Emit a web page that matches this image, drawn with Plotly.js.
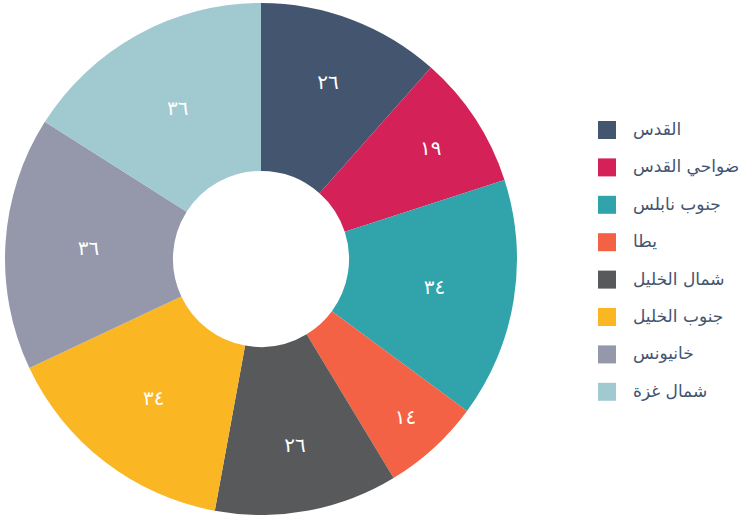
<!DOCTYPE html>
<html>
<head>
<meta charset="utf-8">
<script src="https://cdn.plot.ly/plotly-3.0.1.min.js"></script>
<style>html,body{margin:0;padding:0;background:#fff;}#chart{width:756px;height:515px;}</style>
</head>
<body>
<div id="chart"></div>
<script>
const categories = ["القدس", "ضواحي القدس", "جنوب نابلس", "يطا", "شمال الخليل", "جنوب الخليل", "خانيونس", "شمال غزة"];
const values = [26, 19, 34, 14, 26, 34, 36, 36];
const colors = ["#44566f", "#d42158", "#31a3aa", "#f46245", "#58595b", "#fab623", "#9597aa", "#a0cacf"];

function toArabicDigits(n) {
  const d = "٠١٢٣٤٥٦٧٨٩";
  return String(n).replace(/[0-9]/g, c => d[+c]);
}
const sliceText = values.map(toArabicDigits);

const W = 756, H = 515;
const pie = {
  type: "pie",
  labels: categories,
  values: values,
  text: sliceText,
  textinfo: "text",
  textposition: "inside",
  insidetextorientation: "horizontal",
  textfont: {family: "DejaVu Sans", size: 20, color: "#ffffff"},
  hole: 0.344,
  sort: false,
  direction: "clockwise",
  rotation: 0,
  marker: {colors: colors, line: {width: 0}},
  domain: {x: [5 / W, 517 / W], y: [0, 512 / H]},
  showlegend: false,
  hoverinfo: "label+value"
};

// custom legend
const shapes = [], annotations = [];
const legTop = 130, legStep = 37.4, sqX = 598, sqS = 18, txtX = 631;
categories.forEach((c, i) => {
  const cy = legTop + i * legStep;
  shapes.push({
    type: "rect", xref: "paper", yref: "paper",
    x0: sqX / W, x1: (sqX + sqS) / W,
    y0: 1 - (cy + sqS / 2) / H, y1: 1 - (cy - sqS / 2) / H,
    fillcolor: colors[i], line: {width: 0}
  });
  annotations.push({
    xref: "paper", yref: "paper", x: txtX / W, y: 1 - (cy - 1) / H,
    xanchor: "left", yanchor: "middle", showarrow: false,
    text: c, font: {family: "DejaVu Sans", size: 17, color: "#44546f"}
  });
});

const layout = {
  width: W, height: H,
  margin: {l: 0, r: 0, t: 0, b: 0},
  paper_bgcolor: "#ffffff",
  showlegend: false,
  shapes: shapes,
  annotations: annotations
};
Plotly.newPlot("chart", [pie], layout, {displayModeBar: false, staticPlot: true});
</script>
</body>
</html>
